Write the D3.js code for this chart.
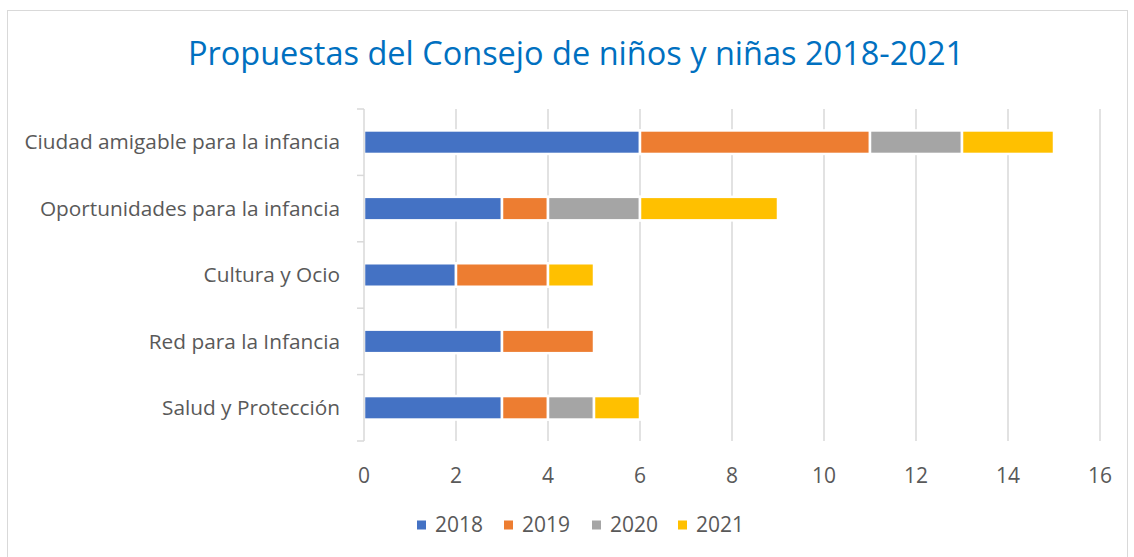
<!DOCTYPE html>
<html>
<head>
<meta charset="utf-8">
<script src="https://cdn.jsdelivr.net/npm/d3@7"></script>
<style>
  body { margin: 0; background: #fff; }
  svg text { font-family: "Open Sans", sans-serif; }
</style>
</head>
<body>
<svg id="chart" width="1134" height="557"></svg>
<script>
// --- DATA ---
const categories = [
  "Ciudad amigable para la infancia",
  "Oportunidades para la infancia",
  "Cultura y Ocio",
  "Red para la Infancia",
  "Salud y Protección"
];
const years = ["2018", "2019", "2020", "2021"];
const v2018 = [6, 3, 2, 3, 3];
const v2019 = [5, 1, 2, 2, 1];
const v2020 = [2, 2, 0, 0, 1];
const v2021 = [2, 3, 1, 0, 1];
const xTicks = [0, 2, 4, 6, 8, 10, 12, 14, 16];
const colors = ["#4472C4", "#ED7D31", "#A5A5A5", "#FFC000"];

const rows = categories.map((c, i) => ({
  cat: c, "2018": v2018[i], "2019": v2019[i], "2020": v2020[i], "2021": v2021[i]
}));

const svg = d3.select("#chart");

// chart border
svg.append("rect")
  .attr("x", 7.5).attr("y", 10.5)
  .attr("width", 1120).attr("height", 560)
  .attr("fill", "#fff").attr("stroke", "#d9d9d9").attr("stroke-width", 1);

// title
svg.append("text")
  .attr("x", 576).attr("y", 65)
  .attr("text-anchor", "middle")
  .attr("fill", "#0070C0")
  .style("font-size", "32.5px")
  .text("Propuestas del Consejo de niños y niñas 2018-2021");

const margin = {left: 364, top: 109};
const iW = 1100 - margin.left;
const iH = 441 - margin.top;

const x = d3.scaleLinear().domain([0, 16]).range([0, iW]);
const y = d3.scaleBand().domain(categories).range([0, iH]).paddingInner(0.646).paddingOuter(0.323);

const g = svg.append("g").attr("transform", `translate(${margin.left},${margin.top})`);

// gridlines
g.append("g")
  .selectAll("line")
  .data(xTicks.slice(1))
  .join("line")
  .attr("x1", d => x(d)).attr("x2", d => x(d))
  .attr("y1", 0).attr("y2", iH)
  .attr("stroke", "#d9d9d9").attr("stroke-width", 1.5);

// stacked bars (white outline gives the gaps between segments)
const stack = d3.stack().keys(years)(rows);
g.selectAll(".series")
  .data(stack)
  .join("g")
  .attr("fill", (d, i) => colors[i])
  .selectAll("rect")
  .data(d => d.filter(p => p[1] - p[0] > 0))
  .join("rect")
  .attr("x", d => x(d[0]))
  .attr("y", d => y(d.data.cat))
  .attr("width", d => x(d[1]) - x(d[0]))
  .attr("height", y.bandwidth())
  .attr("stroke", "#fff")
  .attr("stroke-width", 2.5);

// y axis line + boundary ticks
const yAxis = g.append("g");
yAxis.append("line")
  .attr("x1", 0).attr("x2", 0).attr("y1", 0).attr("y2", iH)
  .attr("stroke", "#d9d9d9").attr("stroke-width", 1.5);
const step = iH / categories.length;
yAxis.selectAll(".tk")
  .data(d3.range(categories.length + 1))
  .join("line")
  .attr("x1", -7).attr("x2", 0)
  .attr("y1", d => d * step).attr("y2", d => d * step)
  .attr("stroke", "#d9d9d9").attr("stroke-width", 1.5);
yAxis.selectAll("text")
  .data(categories)
  .join("text")
  .attr("x", -24)
  .attr("y", d => y(d) + y.bandwidth() / 2)
  .attr("dy", "0.35em")
  .attr("text-anchor", "end")
  .attr("fill", "#595959")
  .style("font-size", "20.8px")
  .text(d => d);

// x axis labels
g.append("g")
  .selectAll("text")
  .data(xTicks)
  .join("text")
  .attr("x", d => x(d))
  .attr("y", iH + 42)
  .attr("text-anchor", "middle")
  .attr("fill", "#595959")
  .style("font-size", "21px")
  .text(d => d);

// legend
const leg = svg.append("g").attr("transform", "translate(0,525)");
const legX = [417, 504, 592, 678];
years.forEach((yr, i) => {
  leg.append("rect")
    .attr("x", legX[i]).attr("y", -4.5)
    .attr("width", 9).attr("height", 9)
    .attr("fill", colors[i]);
  leg.append("text")
    .attr("x", legX[i] + 18).attr("y", 0)
    .attr("dy", "0.35em")
    .attr("fill", "#595959")
    .style("font-size", "21px")
    .text(yr);
});
</script>
</body>
</html>
